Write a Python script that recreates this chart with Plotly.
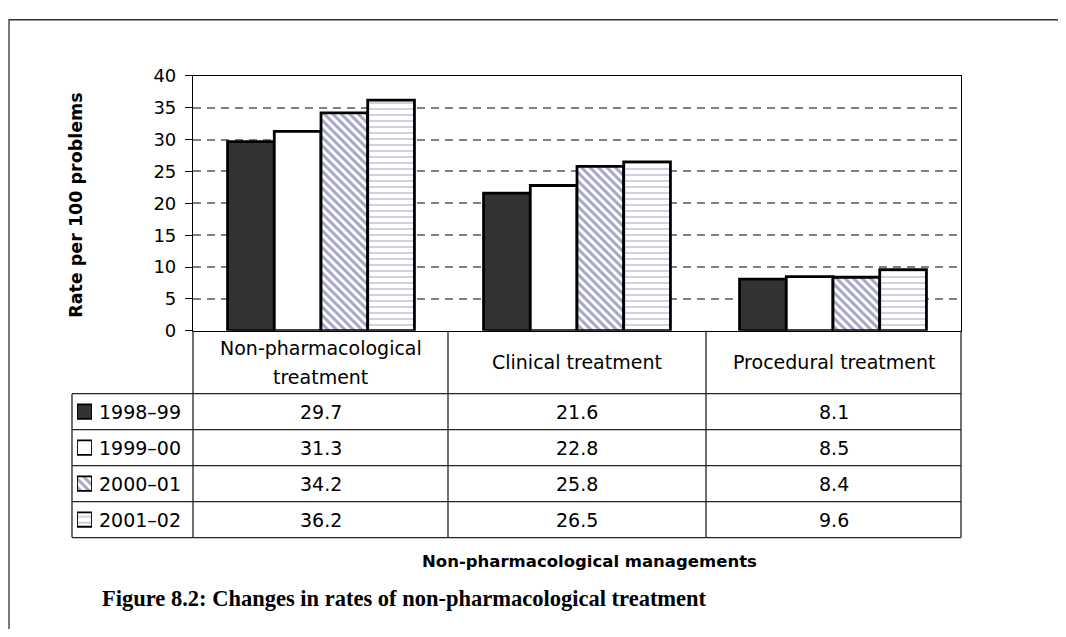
import plotly.graph_objects as go

categories = ["Non-pharmacological treatment", "Clinical treatment", "Procedural treatment"]
header_labels = ["Non-pharmacological<br>treatment", "Clinical treatment", "Procedural treatment"]
series_names = ["1998\u201399", "1999\u201300", "2000\u201301", "2001\u201302"]
v1998 = [29.7, 21.6, 8.1]
v1999 = [31.3, 22.8, 8.5]
v2000 = [34.2, 25.8, 8.4]
v2001 = [36.2, 26.5, 9.6]
series_values = [v1998, v1999, v2000, v2001]
y_ticks = [0, 5, 10, 15, 20, 25, 30, 35, 40]

# figure placement on the captured page (measured): x = 8 + fx, y = 18 + 0.967 * fy
W, H = 1050, 621
X_OFF, Y_OFF, Y_SCALE = 8, 18, 0.967
def px(x):
    return (x - X_OFF) / W
def py(y):
    return 1 - ((y - Y_OFF) / Y_SCALE) / H

SANS = "DejaVu Sans, Arial, sans-serif"
styles = [
    dict(color="#333333", pattern=dict(shape="")),
    dict(color="#ffffff", pattern=dict(shape="")),
    dict(color="#ffffff", pattern=dict(shape="\\", fgcolor="#4b4b8c", bgcolor="#ffffff", size=6, solidity=0.5, fillmode="overlay")),
    dict(color="#ffffff", pattern=dict(shape="-", fgcolor="#9494c2", bgcolor="#ffffff", size=6, solidity=0.3, fillmode="overlay")),
]

fig = go.Figure()
for name, vals, st in zip(series_names, series_values, styles):
    fig.add_trace(go.Bar(
        x=categories, y=vals, name=name,
        marker=dict(color=st["color"], pattern=st["pattern"], line=dict(color="#000000", width=2.8)),
        showlegend=False, hoverinfo="skip",
    ))

# legend keys inside the data table
for name, st in zip(series_names, styles):
    fig.add_trace(go.Bar(
        y=[name], x=[1], orientation="h", width=0.4,
        marker=dict(color=st["color"], pattern=st["pattern"], line=dict(color="#000000", width=1.8)),
        xaxis="x2", yaxis="y2", showlegend=False, hoverinfo="skip",
    ))

plot_l, plot_r, plot_t, plot_b = 193, 961, 75, 330
fig.update_layout(
    width=W, height=H,
    margin=dict(l=0, r=0, t=0, b=0),
    paper_bgcolor="white", plot_bgcolor="white",
    barmode="group", bargap=0.27, bargroupgap=0,
    font=dict(family=SANS, size=19, color="#000000"),
    xaxis=dict(domain=[px(plot_l), px(plot_r)], showticklabels=False, ticks="",
               showline=True, linecolor="#000000", linewidth=1.2, mirror=True, showgrid=False),
    yaxis=dict(domain=[py(plot_b), py(plot_t)], range=[0, 40], tickvals=y_ticks,
               ticks="outside", ticklen=7, tickcolor="#000000", ticklabelstandoff=5,
               showline=True, linecolor="#000000", linewidth=1.2, mirror=True,
               showgrid=True, gridcolor="#808080", gridwidth=1.8, griddash="8px,6px",
               zeroline=False, tickfont=dict(size=18)),
    xaxis2=dict(domain=[px(77), px(92)], range=[0, 1], visible=False, fixedrange=True),
    yaxis2=dict(domain=[py(537), py(393)], visible=False, autorange="reversed",
                categoryorder="array", categoryarray=series_names),
)

row_lines = [393, 429, 465, 501, 537]
col_lines = [193, 448, 706, 961]
shapes = []
lc = "#222222"
for y in row_lines:
    shapes.append(dict(type="line", xref="paper", yref="paper", x0=px(72), x1=px(961), y0=py(y), y1=py(y),
                       line=dict(color=lc, width=1.3)))
for x in col_lines:
    shapes.append(dict(type="line", xref="paper", yref="paper", x0=px(x), x1=px(x), y0=py(330), y1=py(537),
                       line=dict(color=lc, width=1.3)))
shapes.append(dict(type="line", xref="paper", yref="paper", x0=px(72), x1=px(72), y0=py(393), y1=py(537),
                   line=dict(color=lc, width=1.3)))
# outer frame
shapes.append(dict(type="rect", xref="paper", yref="paper", x0=px(9), x1=px(1100), y0=-0.2, y1=1 - 0.8 / H,
                   line=dict(color="#333333", width=1.3)))
fig.update_layout(shapes=shapes)

ann = []
col_centers = [(a + b) / 2 for a, b in zip(col_lines[:-1], col_lines[1:])]
for c, lab in zip(col_centers, header_labels):
    lines = lab.split("<br>")
    ys = [361.5] if len(lines) == 1 else [347, 376]
    for yy, t in zip(ys, lines):
        ann.append(dict(x=px(c), y=py(yy), xref="paper", yref="paper", text=t, showarrow=False,
                        font=dict(size=19), xanchor="center", yanchor="middle"))
row_centers = [(a + b) / 2 for a, b in zip(row_lines[:-1], row_lines[1:])]
for r, name, vals in zip(row_centers, series_names, series_values):
    ann.append(dict(x=px(97), y=py(r), xref="paper", yref="paper", text=name, showarrow=False,
                    font=dict(size=19), xanchor="left", yanchor="middle"))
    for c, v in zip(col_centers, vals):
        ann.append(dict(x=px(c), y=py(r), xref="paper", yref="paper", text=f"{v:.1f}", showarrow=False,
                        font=dict(size=19), xanchor="center", yanchor="middle"))
ann.append(dict(x=px(76), y=py(204), xref="paper", yref="paper", text="<b>Rate per 100 problems</b>",
                showarrow=False, textangle=-90, font=dict(size=17.5), xanchor="center", yanchor="middle"))
ann.append(dict(x=px(589), y=py(561), xref="paper", yref="paper", text="<b>Non-pharmacological managements</b>",
                showarrow=False, font=dict(size=16.5), xanchor="center", yanchor="middle"))
ann.append(dict(x=px(100), y=py(598), xref="paper", yref="paper",
                text="<b>Figure 8.2: Changes in rates of non-pharmacological treatment</b>",
                showarrow=False, font=dict(size=22.5, family="Liberation Serif, Times New Roman, serif"),
                xanchor="left", yanchor="middle"))
fig.update_layout(annotations=ann)

fig.write_html("out.html")
